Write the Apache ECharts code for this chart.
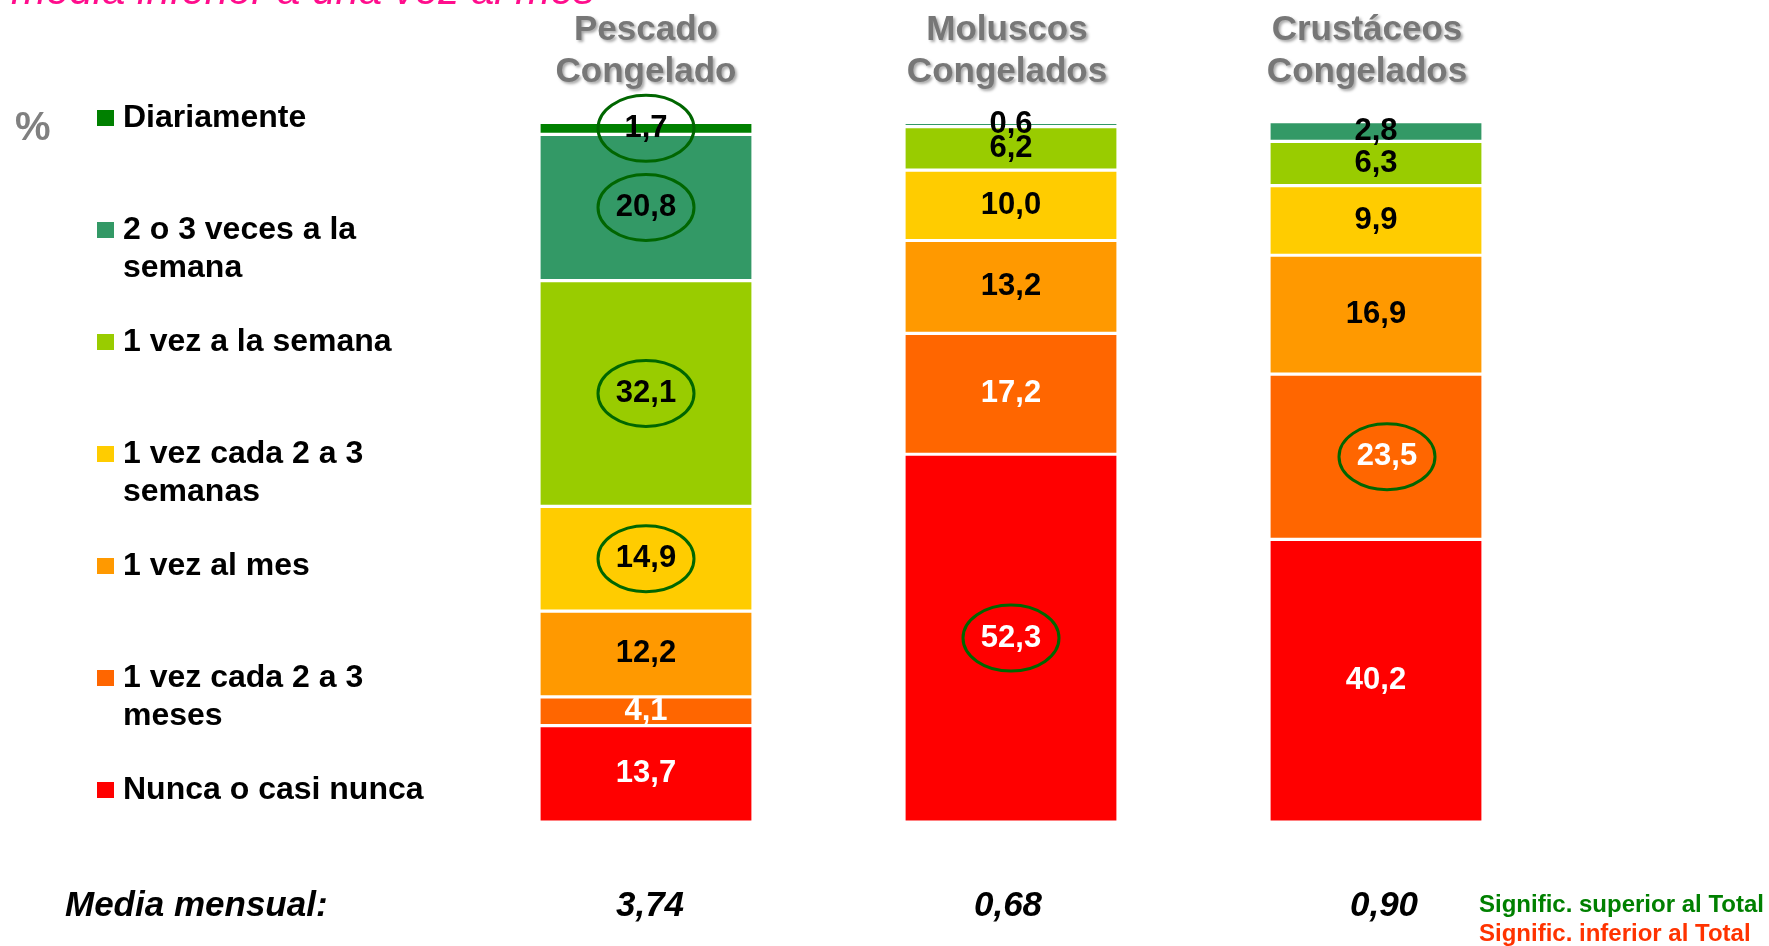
<!DOCTYPE html>
<html>
<head>
<meta charset="utf-8">
<style>
html, body { margin: 0; padding: 0; background: #fff; }
#chart { width: 1769px; height: 946px; }
</style>
<script src="https://cdn.jsdelivr.net/npm/echarts@6/dist/echarts.min.js"></script>
</head>
<body>
<div id="chart"></div>
<script>
var categories = ['Pescado\nCongelado', 'Moluscos\nCongelados', 'Crustáceos\nCongelados'];
var mediaMensual = ['3,74', '0,68', '0,90'];
// respuestas, de arriba a abajo de la barra
var frecuencias = ['Diariamente', '2 o 3 veces a la\nsemana', '1 vez a la semana',
    '1 vez cada 2 a 3\nsemanas', '1 vez al mes', '1 vez cada 2 a 3\nmeses', 'Nunca o casi nunca'];
var colores = ['#008000', '#339966', '#99cc00', '#ffcc00', '#ff9900', '#ff6600', '#ff0000'];
var diariamente = [1.7, null, null];
var dosTresVecesSemana = [20.8, 0.6, 2.8];
var unaVezSemana = [32.1, 6.2, 6.3];
var cadaDosTresSemanas = [14.9, 10.0, 9.9];
var unaVezMes = [12.2, 13.2, 16.9];
var cadaDosTresMeses = [4.1, 17.2, 23.5];
var nuncaCasiNunca = [13.7, 52.3, 40.2];
// valores con diferencia significativa: [categoria, respuesta]
var circulados = [[0, 0], [0, 1], [0, 2], [0, 3], [1, 6], [2, 5]];

var valores = [diariamente, dosTresVecesSemana, unaVezSemana, cadaDosTresSemanas,
    unaVezMes, cadaDosTresMeses, nuncaCasiNunca];
var FONT = 'Liberation Sans, Arial, sans-serif';
// pequeño desplazamiento horizontal de textos, como en el original
var desplTitulo = [0, -4, -9];
var desplMedia = [4, -3, 8];
var desplCirculo = { '2_5': 11 };

function fmt(v) {
    return v == null ? '' : v.toFixed(1).replace('.', ',');
}

var series = [];
for (var k = valores.length - 1; k >= 0; k--) {
    series.push({
        name: frecuencias[k],
        type: 'bar',
        stack: 'total',
        barWidth: 214,
        data: valores[k].map(function (v, c) {
            var dx = desplCirculo[c + '_' + k];
            return dx ? { value: v, label: { offset: [dx, 0] } } : v;
        }),
        itemStyle: { color: colores[k], borderColor: '#fff', borderWidth: 1.6 },
        label: {
            show: true,
            position: 'inside',
            color: k >= 5 ? '#fff' : '#000',
            fontFamily: FONT,
            fontWeight: 'bold',
            fontSize: 31,
            formatter: function (p) { return fmt(p.value); }
        }
    });
}

// centro de cada segmento marcado
var elipses = circulados.map(function (c) {
    var base = 0;
    for (var j = valores.length - 1; j > c[1]; j--) base += valores[j][c[0]] || 0;
    return [c[0], base + valores[c[1]][c[0]] / 2, desplCirculo[c[0] + '_' + c[1]] || 0];
});
series.push({
    type: 'custom',
    z: 5,
    silent: true,
    data: elipses,
    renderItem: function (params, api) {
        var p = api.coord([api.value(0), api.value(1)]);
        return {
            type: 'ellipse',
            shape: { cx: p[0] + api.value(2), cy: p[1], rx: 48, ry: 33 },
            style: { fill: 'none', stroke: '#006600', lineWidth: 3 }
        };
    }
});

function shifted(dx, base) {
    var s = {};
    for (var key in base) s[key] = base[key];
    s.padding = dx >= 0 ? [0, 0, 0, 2 * dx] : [0, -2 * dx, 0, 0];
    return s;
}
var tituloStyle = {
    color: '#777', fontFamily: FONT, fontWeight: 'bold', fontSize: 35, lineHeight: 42,
    textShadowColor: 'rgba(0,0,0,0.35)', textShadowBlur: 3, textShadowOffsetX: 2, textShadowOffsetY: 2
};
var mediaStyle = { color: '#000', fontFamily: FONT, fontWeight: 'bold', fontStyle: 'italic', fontSize: 35 };
var richTitulo = {}, richMedia = {};
desplTitulo.forEach(function (d, i) { richTitulo['t' + i] = shifted(d, tituloStyle); });
desplMedia.forEach(function (d, i) { richMedia['m' + i] = shifted(d, mediaStyle); });

var chart = echarts.init(document.getElementById('chart'));
chart.setOption({
    animation: false,
    grid: { left: 463.5, width: 1095, top: 122, height: 700 },
    legend: {
        orient: 'vertical',
        left: 97,
        top: 99,
        padding: 0,
        itemGap: 36,
        itemWidth: 17,
        itemHeight: 16,
        icon: 'rect',
        selectedMode: false,
        data: frecuencias,
        itemStyle: { borderWidth: 0, borderColor: 'transparent' },
        formatter: function (name) {
            return name.indexOf('\n') >= 0 ? '\n' + name : name;
        },
        textStyle: {
            color: '#000',
            fontFamily: FONT,
            fontWeight: 'bold',
            fontSize: 32,
            lineHeight: 38,
            padding: [0, 0, 0, 4]
        }
    },
    xAxis: [{
        type: 'category',
        position: 'top',
        data: categories,
        axisLine: { show: false },
        axisTick: { show: false },
        axisLabel: {
            interval: 0,
            margin: 29,
            lineHeight: 42,
            formatter: function (v, i) {
                return v.split('\n').map(function (s) { return '{t' + i + '|' + s + '}'; }).join('\n');
            },
            rich: richTitulo
        }
    }, {
        type: 'category',
        position: 'bottom',
        data: mediaMensual,
        axisLine: { show: false },
        axisTick: { show: false },
        axisLabel: {
            interval: 0,
            margin: 67,
            formatter: function (v, i) { return '{m' + i + '|' + v + '}'; },
            rich: richMedia
        }
    }],
    yAxis: { type: 'value', min: 0, max: 99.55, show: false },
    graphic: [
        { type: 'text', left: 11, top: -29, style: { text: 'media inferior a una vez al mes', fill: '#ff0d8c', font: 'italic 42px ' + FONT } },
        { type: 'text', left: 15, top: 109, style: { text: '%', fill: '#808080', font: 'bold 40px ' + FONT } },
        { type: 'text', left: 65, top: 889, style: { text: 'Media mensual:', fill: '#000', font: 'italic bold 35px ' + FONT } },
        { type: 'text', left: 1479, top: 893, style: { text: 'Signific. superior al Total', fill: '#008000', font: 'bold 24px ' + FONT } },
        { type: 'text', left: 1479, top: 922, style: { text: 'Signific. inferior al Total', fill: '#ff3300', font: 'bold 24px ' + FONT } }
    ],
    series: series
});
</script>
</body>
</html>
